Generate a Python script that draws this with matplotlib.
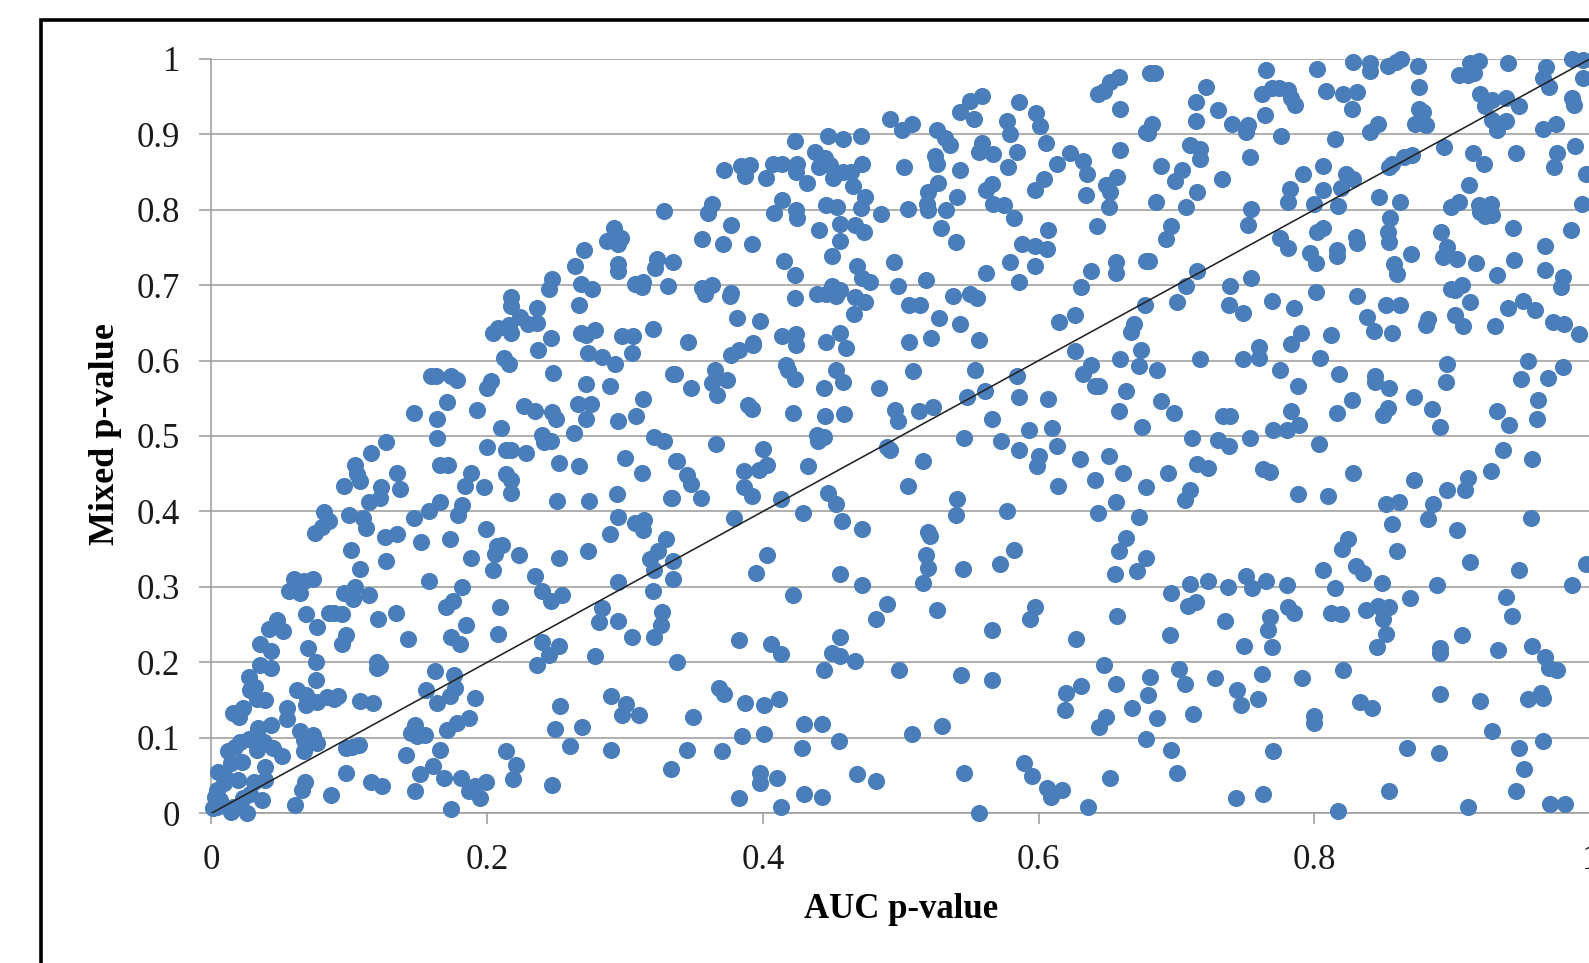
import matplotlib
matplotlib.use("Agg")
import matplotlib.pyplot as plt
from matplotlib.lines import Line2D

# (AUC p-value, Mixed p-value), by region
left_top = [(.328,.798),(.292,.776),(.297,.763),(.287,.759),(.295,.755),(.270,.746),(.264,.725),(.295,.728),(.295,.718),(.323,.734),(.322,.722),(.335,.731),(.247,.708),(.245,.695),(.268,.702),(.276,.695),(.307,.702),(.313,.704),(.312,.698),(.331,.699),(.217,.684),(.217,.672),(.236,.670),(.224,.658),(.267,.674),(.230,.649),(.236,.650),(.216,.647),(.208,.643),(.204,.637),(.217,.637),(.246,.630),(.268,.637),(.272,.634),(.278,.640),(.298,.632),(.306,.632),(.320,.642)]
left_mid = [(.237,.614),(.273,.610),(.283,.605),(.293,.596),(.305,.610),(.212,.603),(.216,.595),(.248,.584),(.335,.582),(.159,.580),(.163,.580),(.174,.580),(.178,.574),(.203,.573),(.200,.563),(.272,.569),(.289,.566),(.313,.549),(.171,.545),(.193,.535),(.147,.531),(.164,.522),(.227,.540),(.235,.533),(.247,.532),(.250,.522),(.266,.543),(.275,.543),(.272,.522),(.295,.520),(.308,.526),(.210,.510),(.164,.497),(.263,.504),(.240,.501),(.241,.492),(.246,.494),(.321,.499),(.328,.494),(.127,.492),(.116,.478),(.200,.485),(.214,.481),(.217,.481),(.228,.478),(.104,.461),(.106,.450),(.108,.441),(.096,.434),(.135,.451),(.137,.430),(.166,.462),(.172,.462),(.252,.464),(.267,.460),(.300,.471),(.312,.451),(.337,.467),(.188,.451),(.184,.434),(.198,.432),(.214,.449),(.217,.442),(.217,.424),(.123,.432),(.122,.418),(.114,.413),(.166,.412),(.158,.400),(.147,.391),(.182,.409),(.179,.395),(.251,.414),(.274,.414),(.294,.423),(.333,.418),(.082,.399),(.085,.388),(.080,.380),(.075,.372),(.100,.395),(.110,.391),(.112,.378),(.126,.366),(.135,.370),(.152,.359),(.173,.363),(.199,.377),(.295,.393),(.289,.370),(.307,.385),(.314,.389),(.313,.375),(.101,.349),(.127,.335),(.108,.324),(.211,.356),(.207,.354),(.206,.344),(.223,.342),(.188,.338),(.204,.322),(.252,.338),(.273,.347),(.330,.363),(.324,.347),(.318,.337),(.321,.322),(.335,.334),(.335,.311),(.235,.315),(.240,.294),(.246,.281),(.254,.289),(.295,.306),(.320,.294),(.158,.308),(.182,.300),(.175,.281),(.170,.273),(.209,.273),(.283,.272),(.327,.267),(.060,.310),(.067,.308),(.074,.311),(.056,.294),(.064,.292),(.096,.292),(.104,.300),(.103,.284),(.114,.289)]
left_low = [(.281,.254),(.295,.255),(.305,.234),(.326,.249),(.321,.234),(.240,.227),(.252,.222),(.245,.210),(.236,.197),(.278,.208),(.338,.200),(.134,.266),(.121,.257),(.069,.264),(.077,.247),(.085,.265),(.089,.266),(.095,.264),(.185,.250),(.174,.234),(.180,.224),(.208,.238),(.143,.231),(.048,.256),(.042,.244),(.052,.242),(.035,.225),(.043,.215),(.070,.219),(.076,.201),(.098,.236),(.095,.224),(.120,.200),(.120,.192),(.122,.195),(.035,.197),(.043,.192),(.027,.181),(.032,.168),(.028,.164),(.076,.177),(.062,.164),(.069,.157),(.069,.144),(.077,.148),(.084,.154),(.092,.155),(.089,.152),(.108,.149),(.117,.146),(.162,.189),(.176,.183),(.156,.163),(.177,.166),(.173,.155),(.164,.146),(.191,.153),(.039,.150),(.033,.152),(.023,.139),(.016,.133),(.020,.127),(.055,.140),(.055,.125),(.290,.156),(.301,.145),(.298,.130),(.310,.130),(.253,.142),(.249,.112),(.269,.114),(.260,.089),(.290,.084),(.187,.126),(.178,.120),(.171,.110),(.148,.117),(.145,.107),(.149,.102),(.155,.104),(.043,.117),(.034,.113),(.064,.109),(.074,.104),(.067,.097),(.077,.093),(.067,.083),(.098,.086),(.107,.091),(.102,.088),(.166,.084),(.141,.077),(.161,.063),(.214,.082),(.221,.064),(.219,.046),(.247,.038),(.333,.059),(.151,.052),(.169,.047),(.181,.047),(.148,.029),(.199,.041),(.191,.036),(.187,.029),(.195,.020),(.174,.006),(.098,.054),(.116,.041),(.124,.036),(.087,.024),(.068,.042),(.066,.031),(.061,.011)]
corner = [(.021,.095),(.027,.099),(.033,.104),(.038,.095),(.033,.084),(.045,.086),(.051,.076),(.012,.082),(.017,.088),(.022,.068),(.014,.066),(.039,.061),(.005,.055),(.010,.048),(.019,.044),(.031,.042),(.039,.044),(.004,.031),(.009,.040),(.023,.020),(.037,.018),(.001,.007),(.004,.009),(.014,.002),(.026,.001),(.006,.018),(.003,.022),(.016,.009),(.028,.026)]
mid_top = [(.658,.976),(.652,.969),(.647,.957),(.643,.953),(.659,.934),(.681,.981),(.559,.951),(.550,.944),(.543,.930),(.553,.920),(.586,.942),(.598,.928),(.601,.911),(.605,.888),(.577,.917),(.579,.900),(.492,.920),(.501,.906),(.508,.914),(.526,.905),(.532,.895),(.536,.885),(.678,.903),(.659,.879),(.447,.898),(.458,.893),(.471,.898),(.423,.891),(.438,.877),(.445,.868),(.559,.888),(.557,.877),(.567,.874),(.584,.877),(.525,.871),(.526,.861),(.623,.875),(.632,.864),(.635,.847),(.613,.860),(.578,.856),(.543,.852),(.502,.856),(.372,.852),(.384,.858),(.391,.859),(.387,.845),(.402,.842),(.407,.860),(.414,.860),(.425,.861),(.424,.850),(.432,.835),(.441,.857),(.449,.859),(.451,.842),(.458,.850),(.464,.850),(.472,.860),(.465,.831),(.527,.835),(.520,.824),(.519,.808),(.520,.800),(.533,.800),(.541,.817),(.505,.801),(.566,.834),(.562,.826),(.567,.808),(.575,.806),(.582,.789),(.604,.840),(.597,.826),(.657,.843),(.649,.833),(.652,.824),(.634,.820),(.651,.803),(.642,.778),(.474,.817),(.471,.802),(.486,.794),(.446,.806),(.454,.804),(.414,.813),(.408,.795),(.424,.800),(.425,.789),(.363,.808),(.360,.795),(.377,.780),(.441,.773),(.456,.781),(.467,.780),(.473,.770),(.456,.759),(.529,.775),(.540,.757),(.607,.773),(.588,.755),(.597,.752),(.606,.748),(.356,.761),(.371,.755),(.392,.755),(.415,.732),(.423,.713),(.450,.739),(.468,.725),(.495,.730),(.472,.709),(.478,.704),(.498,.699),(.518,.707),(.562,.716),(.579,.730),(.597,.725),(.586,.704),(.638,.718),(.656,.731),(.656,.716),(.678,.732),(.631,.697),(.356,.696),(.363,.700),(.358,.688),(.377,.690),(.376,.685),(.423,.683),(.439,.688),(.450,.699),(.456,.694),(.453,.685),(.446,.688),(.467,.684),(.474,.678),(.466,.662),(.538,.685),(.550,.688),(.555,.683),(.506,.674),(.514,.674),(.528,.656),(.543,.649),(.626,.661),(.615,.651),(.677,.673),(.669,.649),(.667,.638),(.381,.656),(.398,.653),(.346,.625),(.393,.623),(.414,.632),(.424,.635),(.446,.625),(.456,.637),(.506,.625),(.522,.630),(.557,.627)]
mid_mid = [(.377,.607),(.383,.614),(.393,.621),(.424,.621),(.460,.616),(.365,.587),(.336,.582),(.374,.574),(.363,.570),(.367,.554),(.348,.563),(.417,.594),(.418,.587),(.423,.576),(.453,.588),(.458,.572),(.444,.563),(.484,.563),(.509,.586),(.554,.588),(.389,.541),(.392,.536),(.422,.531),(.445,.527),(.459,.529),(.496,.535),(.498,.520),(.513,.533),(.523,.538),(.626,.612),(.638,.594),(.632,.582),(.584,.580),(.659,.602),(.674,.614),(.673,.593),(.641,.566),(.644,.566),(.663,.559),(.658,.533),(.675,.512),(.561,.559),(.548,.552),(.586,.552),(.607,.549),(.566,.522),(.593,.508),(.610,.510),(.613,.487),(.573,.494),(.546,.497),(.586,.481),(.600,.474),(.599,.460),(.630,.469),(.651,.474),(.661,.451),(.641,.442),(.678,.432),(.614,.434),(.439,.501),(.444,.499),(.440,.493),(.366,.490),(.400,.483),(.403,.462),(.397,.455),(.386,.453),(.433,.460),(.338,.467),(.345,.448),(.348,.437),(.355,.418),(.334,.418),(.386,.433),(.392,.421),(.490,.485),(.492,.481),(.516,.467),(.505,.434),(.447,.424),(.453,.410),(.413,.416),(.429,.398),(.379,.391),(.457,.388),(.472,.377),(.541,.416),(.540,.395),(.577,.400),(.643,.398),(.656,.412),(.673,.393),(.663,.365),(.658,.347),(.678,.338),(.671,.321),(.655,.317),(.520,.373),(.521,.367),(.518,.342),(.520,.325),(.516,.305),(.545,.324),(.572,.331),(.582,.349),(.403,.342),(.395,.319),(.456,.317),(.472,.303),(.422,.289),(.490,.278),(.526,.269),(.482,.258),(.597,.274),(.594,.258),(.657,.261)]
mid_low = [(.627,.231),(.566,.243),(.383,.229),(.406,.225),(.413,.211),(.456,.234),(.450,.213),(.456,.208),(.467,.202),(.444,.190),(.499,.190),(.544,.183),(.566,.176),(.647,.197),(.368,.166),(.372,.158),(.387,.146),(.401,.144),(.412,.151),(.349,.128),(.385,.103),(.401,.105),(.430,.119),(.443,.119),(.428,.086),(.455,.096),(.508,.105),(.530,.116),(.345,.084),(.370,.082),(.398,.053),(.398,.040),(.410,.047),(.468,.052),(.482,.043),(.430,.026),(.443,.022),(.383,.020),(.413,.008),(.546,.054),(.557,.001),(.589,.066),(.595,.050),(.606,.034),(.617,.031),(.609,.022),(.636,.008),(.652,.047),(.620,.160),(.631,.169),(.619,.137),(.656,.172),(.681,.181),(.679,.157),(.668,.140),(.649,.128),(.644,.114),(.678,.098)]
right_top = [(.684,.981),(.721,.962),(.714,.943),(.730,.932),(.714,.918),(.765,.985),(.802,.987),(.828,.996),(.840,.994),(.840,.984),(.853,.990),(.859,.995),(.863,.999),(.875,.990),(.762,.953),(.769,.961),(.774,.961),(.781,.958),(.783,.948),(.786,.939),(.808,.957),(.821,.953),(.831,.956),(.827,.933),(.876,.962),(.876,.934),(.879,.929),(.873,.913),(.881,.912),(.764,.926),(.740,.914),(.752,.912),(.750,.903),(.776,.898),(.682,.914),(.679,.901),(.815,.893),(.846,.914),(.840,.903),(.905,.978),(.911,.978),(.916,.981),(.913,.994),(.919,.997),(.940,.994),(.968,.989),(.966,.974),(.970,.962),(.987,.999),(.995,.998),(.995,.974),(.920,.953),(.929,.945),(.924,.937),(.939,.948),(.948,.937),(.987,.948),(.988,.939),(.929,.919),(.939,.917),(.932,.906),(.975,.914),(.966,.907),(.710,.886),(.717,.880),(.717,.867),(.753,.870),(.689,.858),(.704,.853),(.699,.838),(.733,.840),(.715,.824),(.685,.810),(.707,.803),(.754,.801),(.752,.780),(.696,.778),(.692,.761),(.792,.847),(.806,.858),(.823,.847),(.828,.840),(.806,.826),(.819,.828),(.782,.827),(.781,.810),(.800,.808),(.817,.805),(.854,.857),(.856,.861),(.865,.870),(.871,.872),(.894,.883),(.915,.875),(.923,.860),(.946,.875),(.976,.875),(.974,.856),(.989,.884),(.997,.847),(.912,.833),(.847,.817),(.862,.810),(.899,.803),(.905,.810),(.919,.806),(.928,.808),(.920,.797),(.929,.793),(.924,.791),(.994,.808),(.855,.789),(.853,.771),(.854,.757),(.892,.771),(.944,.776),(.986,.773),(.802,.771),(.806,.775),(.775,.762),(.781,.749),(.797,.743),(.801,.729),(.816,.747),(.816,.738),(.830,.764),(.831,.756),(.870,.741),(.896,.751),(.893,.737),(.903,.734),(.917,.729),(.945,.733),(.967,.752),(.967,.720),(.858,.728),(.860,.715),(.932,.713),(.980,.711),(.979,.697),(.680,.732),(.715,.719),(.707,.699),(.739,.699),(.754,.710),(.700,.677),(.738,.674),(.748,.663),(.769,.679),(.785,.669),(.801,.691),(.831,.686),(.838,.658),(.843,.639),(.852,.674),(.862,.674),(.882,.655),(.881,.647),(.899,.695),(.902,.693),(.907,.700),(.913,.678),(.902,.660),(.908,.646),(.931,.646),(.940,.669),(.951,.679),(.960,.667),(.973,.651),(.981,.649),(.992,.635),(.856,.636),(.812,.634),(.790,.636)]
right_mid = [(.686,.588),(.717,.602),(.748,.602),(.760,.618),(.760,.604),(.783,.622),(.804,.604),(.775,.588),(.818,.582),(.788,.566),(.844,.579),(.844,.572),(.854,.563),(.872,.552),(.896,.596),(.895,.572),(.955,.600),(.980,.591),(.950,.575),(.969,.577),(.962,.548),(.961,.522),(.932,.533),(.941,.515),(.885,.536),(.891,.512),(.827,.548),(.816,.531),(.853,.537),(.850,.528),(.689,.546),(.698,.531),(.711,.497),(.730,.495),(.738,.487),(.753,.497),(.734,.527),(.739,.527),(.783,.533),(.789,.515),(.780,.508),(.770,.508),(.803,.490),(.694,.451),(.715,.463),(.723,.457),(.710,.429),(.706,.415),(.763,.456),(.768,.452),(.828,.451),(.788,.423),(.810,.421),(.937,.481),(.958,.469),(.928,.453),(.911,.444),(.909,.428),(.896,.428),(.872,.442),(.886,.410),(.861,.412),(.852,.410),(.882,.390),(.856,.384),(.957,.391),(.903,.375),(.824,.363),(.820,.350),(.860,.347),(.913,.333),(.948,.322),(.997,.331),(.830,.328),(.835,.319),(.806,.322),(.710,.304),(.723,.308),(.737,.300),(.750,.314),(.755,.298),(.765,.308),(.780,.303),(.815,.298),(.849,.305),(.889,.303),(.939,.287),(.987,.303),(.696,.292),(.869,.285),(.714,.280),(.708,.275),(.781,.274),(.785,.265),(.812,.266),(.819,.264),(.837,.270),(.846,.275),(.854,.274),(.943,.261)]
right_low = [(.735,.255),(.768,.260),(.766,.243),(.749,.222),(.769,.220),(.695,.236),(.850,.258),(.852,.238),(.845,.220),(.891,.219),(.891,.212),(.907,.236),(.933,.216),(.958,.222),(.967,.207),(.970,.192),(.976,.190),(.702,.191),(.706,.171),(.728,.179),(.762,.185),(.791,.179),(.821,.190),(.744,.163),(.747,.143),(.759,.151),(.712,.132),(.686,.126),(.696,.084),(.700,.054),(.833,.147),(.842,.139),(.800,.129),(.800,.120),(.891,.158),(.920,.149),(.955,.151),(.964,.160),(.966,.153),(.929,.109),(.966,.096),(.948,.086),(.867,.086),(.890,.080),(.770,.082),(.952,.059),(.854,.029),(.946,.029),(.763,.026),(.743,.020),(.817,.003),(.911,.008),(.971,.012),(.982,.012)]

x_ticks = [0, 0.2, 0.4, 0.6, 0.8, 1]
x_tick_labels = ["0", "0.2", "0.4", "0.6", "0.8", "1"]
y_ticks = [0, 0.1, 0.2, 0.3, 0.4, 0.5, 0.6, 0.7, 0.8, 0.9, 1]
y_tick_labels = ["0", "0.1", "0.2", "0.3", "0.4", "0.5", "0.6", "0.7", "0.8", "0.9", "1"]
identity = [0, 1]

all_points = left_top + left_mid + left_low + corner + mid_top + mid_mid + mid_low + right_top + right_mid + right_low
auc_p = [p[0] for p in all_points]
mixed_p = [p[1] for p in all_points]

W, H = 1589, 963
plt.rcParams['font.family'] = ['Liberation Serif', 'DejaVu Serif']
fig = plt.figure(figsize=(W / 100, H / 100), dpi=100, facecolor='white')
ax = fig.add_axes([211.3 / W, (H - 813.3) / H, 1379 / W, 754.6 / H])
ax.set_xlim(0, 1)
ax.set_ylim(0, 1)
ax.set_axisbelow(True)

GRAY = '#9a9a9a'
ax.grid(axis='y', color=GRAY, lw=1.1)
for name in ('top', 'right'):
    ax.spines[name].set_visible(False)
for name in ('left', 'bottom'):
    ax.spines[name].set_color(GRAY)
    ax.spines[name].set_linewidth(1.1)

ax.scatter(auc_p, mixed_p, s=152, color='#4A7EBB', linewidths=0, clip_on=False, zorder=3)
ax.plot(identity, identity, color='#222222', lw=1.15, zorder=4, clip_on=True)

ax.set_xticks(x_ticks, x_tick_labels)
ax.set_yticks(y_ticks, y_tick_labels)
ax.tick_params(axis='x', length=8, width=1.1, color=GRAY, labelsize=25, pad=14, labelcolor='#1a1a1a')
ax.tick_params(axis='y', length=9, width=1.1, color=GRAY, labelsize=25, pad=13.5, labelcolor='#1a1a1a')

fig.text(901 / W, 1 - 909 / H, 'AUC p-value', fontsize=25, fontweight='bold', ha='center', va='center', color='black')
fig.text(106 / W, 1 - 434 / H, 'Mixed p-value', fontsize=26, fontweight='bold', rotation=90, ha='center', va='center', color='black')

# Outer frame, cut off at the right and bottom of the image
fig.add_artist(Line2D([41.2 / W, 41.2 / W, 1], [0, 1 - 20 / H, 1 - 20 / H], transform=fig.transFigure,
                      color='black', lw=2.6, solid_joinstyle='miter'))

fig.savefig('out.png', dpi=100, facecolor='white')
